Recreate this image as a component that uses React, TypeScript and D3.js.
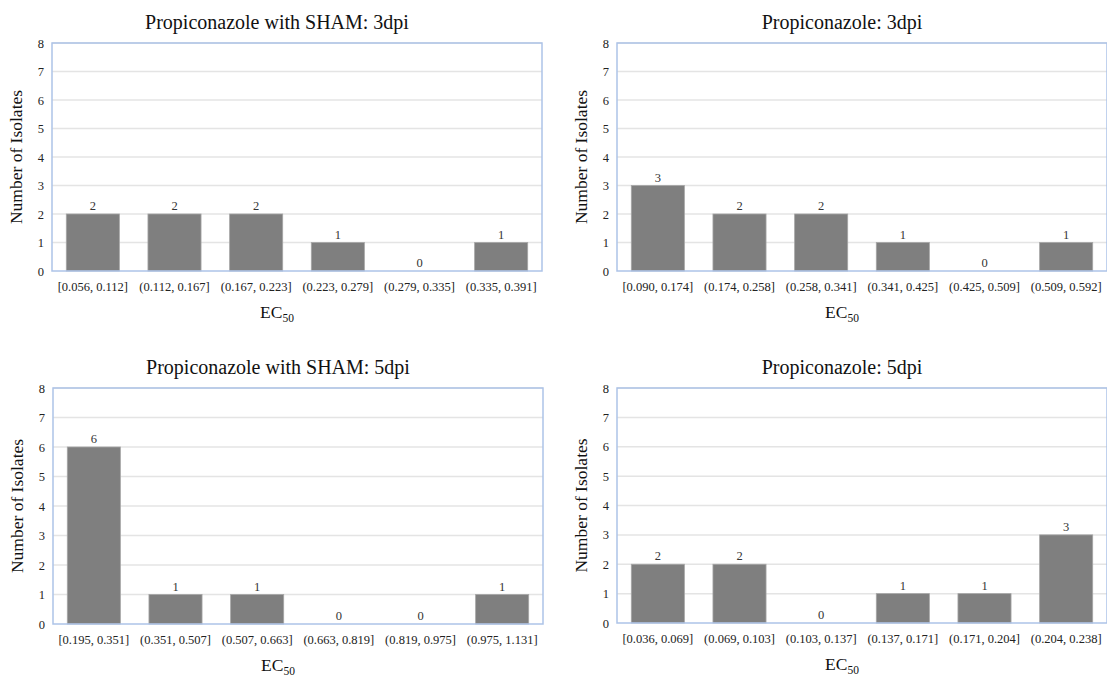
import React, { useRef, useEffect } from 'react';
import * as d3 from 'd3';

// categories (EC50 bins) and isolate counts for each panel
const sham3Bins = ['[0.056, 0.112]', '(0.112, 0.167]', '(0.167, 0.223]', '(0.223, 0.279]', '(0.279, 0.335]', '(0.335, 0.391]'];
const sham3Counts = [2, 2, 2, 1, 0, 1];

const prop3Bins = ['[0.090, 0.174]', '(0.174, 0.258]', '(0.258, 0.341]', '(0.341, 0.425]', '(0.425, 0.509]', '(0.509, 0.592]'];
const prop3Counts = [3, 2, 2, 1, 0, 1];

const sham5Bins = ['[0.195, 0.351]', '(0.351, 0.507]', '(0.507, 0.663]', '(0.663, 0.819]', '(0.819, 0.975]', '(0.975, 1.131]'];
const sham5Counts = [6, 1, 1, 0, 0, 1];

const prop5Bins = ['[0.036, 0.069]', '(0.069, 0.103]', '(0.103, 0.137]', '(0.137, 0.171]', '(0.171, 0.204]', '(0.204, 0.238]'];
const prop5Counts = [2, 2, 0, 1, 1, 3];

const yTicks = [0, 1, 2, 3, 4, 5, 6, 7, 8];

const titles = [
    'Propiconazole with SHAM: 3dpi',
    'Propiconazole: 3dpi',
    'Propiconazole with SHAM: 5dpi',
    'Propiconazole: 5dpi'
];

const FONT = '"Liberation Serif", "Times New Roman", serif';

function App() {
    const svgRef = useRef<SVGSVGElement>(null);

    useEffect(() => {
        const svg = d3.select(svgRef.current);
        svg.selectAll('*').remove();

        // plot boxes for each panel
        const panels = [
            { title: titles[0], bins: sham3Bins, counts: sham3Counts, left: 52, right: 542, top: 43, bottom: 271 },
            { title: titles[1], bins: prop3Bins, counts: prop3Counts, left: 617, right: 1107, top: 43, bottom: 271 },
            { title: titles[2], bins: sham5Bins, counts: sham5Counts, left: 53, right: 543, top: 388, bottom: 624 },
            { title: titles[3], bins: prop5Bins, counts: prop5Counts, left: 617, right: 1107, top: 388, bottom: 623 }
        ];

        panels.forEach(p => {
            const g = svg.append('g');

            const x = d3
                .scaleBand()
                .domain(p.bins)
                .range([p.left, p.right])
                .paddingInner(0.35)
                .paddingOuter(0.175);

            const y = d3.scaleLinear().domain([0, 8]).range([p.bottom, p.top]);

            const center = (p.left + p.right) / 2 - 20;

            // gridlines
            g.selectAll('.grid')
                .data(yTicks.slice(1))
                .join('line')
                .attr('x1', p.left)
                .attr('x2', p.right)
                .attr('y1', d => y(d))
                .attr('y2', d => y(d))
                .attr('stroke', '#e4e4e4')
                .attr('stroke-width', 1.5);

            // bars
            g.selectAll('.bar')
                .data(p.counts)
                .join('rect')
                .attr('x', (d, i) => x(p.bins[i]))
                .attr('y', d => y(d))
                .attr('width', x.bandwidth())
                .attr('height', d => p.bottom - y(d))
                .attr('fill', '#7f7f7f')
                .attr('stroke', '#a6a6a6')
                .attr('stroke-width', 0.8);

            // plot border
            g.append('rect')
                .attr('x', p.left)
                .attr('y', p.top)
                .attr('width', p.right - p.left)
                .attr('height', p.bottom - p.top)
                .attr('fill', 'none')
                .attr('stroke', '#adc3e8')
                .attr('stroke-width', 1.5);

            // value labels
            g.selectAll('.val')
                .data(p.counts)
                .join('text')
                .attr('x', (d, i) => x(p.bins[i]) + x.bandwidth() / 2)
                .attr('y', d => y(d) - 4)
                .attr('text-anchor', 'middle')
                .style('font-family', FONT)
                .style('font-size', '12.5px')
                .style('fill', '#333')
                .text(d => d);

            // y axis
            const yAxis = g
                .append('g')
                .attr('transform', `translate(${p.left}, 0)`)
                .call(d3.axisLeft(y).tickValues(yTicks).tickSize(0).tickPadding(8));
            yAxis.select('.domain').remove();
            yAxis.selectAll('text')
                .style('font-family', FONT)
                .style('font-size', '12.5px')
                .style('fill', '#222');

            // x axis
            const xAxis = g
                .append('g')
                .attr('transform', `translate(0, ${p.bottom})`)
                .call(d3.axisBottom(x).tickSize(0).tickPadding(11));
            xAxis.select('.domain').remove();
            xAxis.selectAll('text')
                .style('font-family', FONT)
                .style('font-size', '12.5px')
                .style('fill', '#222');

            // title
            g.append('text')
                .attr('x', center)
                .attr('y', p.top - 14)
                .attr('text-anchor', 'middle')
                .style('font-family', FONT)
                .style('font-size', '20px')
                .style('fill', '#111')
                .text(p.title);

            // y label
            g.append('text')
                .attr('transform', `translate(${p.left - 30}, ${(p.top + p.bottom) / 2}) rotate(-90)`)
                .attr('text-anchor', 'middle')
                .style('font-family', FONT)
                .style('font-size', '17.5px')
                .style('fill', '#111')
                .text('Number of Isolates');

            // x label EC50
            const xl = g
                .append('text')
                .attr('x', center)
                .attr('y', p.bottom + 47)
                .attr('text-anchor', 'middle')
                .style('font-family', FONT)
                .style('font-size', '17.5px')
                .style('fill', '#111');
            xl.append('tspan').text('EC');
            xl.append('tspan').attr('dy', 4).style('font-size', '11.5px').text('50');
        });
    }, []);

    return (
        <svg
            ref={svgRef}
            width={1107}
            height={679}
            style={{ position: 'absolute', left: 0, top: 0, background: '#fff' }}
        />
    );
}

export default App;
